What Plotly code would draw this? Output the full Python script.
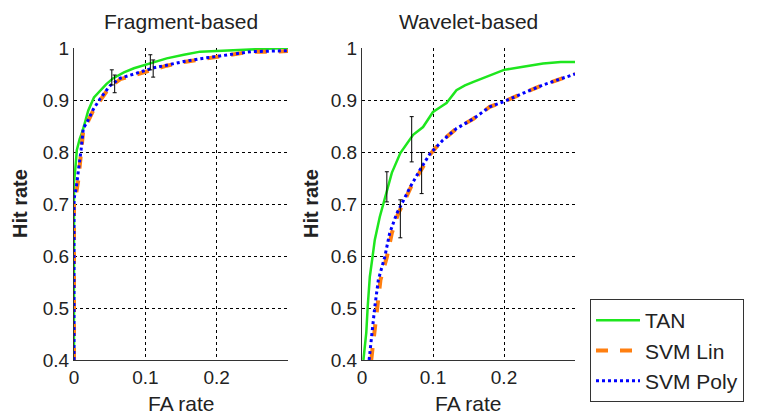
import plotly.graph_objects as go

# ---------------- data ----------------
frag_tan_x = [0, 0, 0.002, 0.004, 0.008, 0.011, 0.015, 0.02, 0.028, 0.037, 0.045, 0.055, 0.07, 0.084, 0.1, 0.112, 0.13, 0.154, 0.177, 0.2, 0.224, 0.26, 0.3]
frag_tan_y = [0.4, 0.74, 0.77, 0.804, 0.825, 0.836, 0.855, 0.88, 0.905, 0.919, 0.93, 0.942, 0.953, 0.961, 0.968, 0.973, 0.98, 0.987, 0.993, 0.994, 0.996, 0.998, 1.0]

frag_lin_x = [0, 0, 0.003, 0.006, 0.01, 0.013, 0.02, 0.027, 0.037, 0.05, 0.065, 0.084, 0.1, 0.112, 0.13, 0.154, 0.18, 0.2, 0.225, 0.248, 0.275, 0.3]
frag_lin_y = [0.4, 0.70, 0.72, 0.746, 0.80, 0.842, 0.86, 0.88, 0.90, 0.925, 0.94, 0.948, 0.955, 0.96, 0.966, 0.973, 0.979, 0.983, 0.988, 0.993, 0.993, 0.994]

frag_poly_x = [0, 0, 0.003, 0.006, 0.01, 0.013, 0.02, 0.027, 0.037, 0.05, 0.065, 0.084, 0.1, 0.112, 0.13, 0.154, 0.18, 0.2, 0.225, 0.248, 0.275, 0.3]
frag_poly_y = [0.4, 0.71, 0.73, 0.76, 0.805, 0.845, 0.862, 0.882, 0.903, 0.927, 0.942, 0.95, 0.957, 0.962, 0.967, 0.974, 0.98, 0.984, 0.989, 0.993, 0.994, 0.995]

wav_tan_x = [0.002, 0.004, 0.006, 0.008, 0.011, 0.015, 0.018, 0.025, 0.03, 0.036, 0.042, 0.054, 0.063, 0.072, 0.086, 0.1, 0.11, 0.119, 0.133, 0.145, 0.157, 0.18, 0.2, 0.227, 0.255, 0.28, 0.3]
wav_tan_y = [0.4, 0.43, 0.452, 0.502, 0.56, 0.60, 0.631, 0.675, 0.70, 0.735, 0.76, 0.798, 0.815, 0.833, 0.848, 0.877, 0.886, 0.894, 0.919, 0.928, 0.935, 0.948, 0.958, 0.964, 0.97, 0.973, 0.973]

wav_lin_x = [0.013, 0.017, 0.021, 0.026, 0.035, 0.042, 0.051, 0.056, 0.069, 0.085, 0.097, 0.105, 0.114, 0.133, 0.157, 0.18, 0.2, 0.227, 0.255, 0.3]
wav_lin_y = [0.4, 0.452, 0.502, 0.554, 0.598, 0.644, 0.682, 0.695, 0.733, 0.771, 0.797, 0.81, 0.823, 0.845, 0.864, 0.887, 0.897, 0.913, 0.929, 0.95]

wav_poly_x = [0.01, 0.014, 0.018, 0.023, 0.032, 0.039, 0.049, 0.054, 0.068, 0.084, 0.096, 0.105, 0.114, 0.133, 0.157, 0.18, 0.2, 0.227, 0.255, 0.3]
wav_poly_y = [0.4, 0.452, 0.502, 0.554, 0.598, 0.644, 0.682, 0.695, 0.733, 0.771, 0.797, 0.81, 0.823, 0.845, 0.864, 0.887, 0.897, 0.913, 0.929, 0.95]

frag_err_x = [0.053, 0.057, 0.107, 0.111]
frag_err_lo = [0.929, 0.914, 0.958, 0.944]
frag_err_hi = [0.958, 0.948, 0.987, 0.977]

wav_err_x = [0.035, 0.054, 0.07, 0.084]
wav_err_lo = [0.704, 0.635, 0.781, 0.72]
wav_err_hi = [0.762, 0.708, 0.868, 0.799]

x_ticks = [0, 0.1, 0.2]
x_tick_labels = ["0", "0.1", "0.2"]
y_ticks = [0.4, 0.5, 0.6, 0.7, 0.8, 0.9, 1.0]
y_tick_labels = ["0.4", "0.5", "0.6", "0.7", "0.8", "0.9", "1"]

titles = ["Fragment-based", "Wavelet-based"]
series_names = ["TAN", "SVM Lin", "SVM Poly"]

# ---------------- styles ----------------
GREEN = "#1ee61e"
ORANGE = "#ff7f10"
BLUE = "#0000ff"
FONT = "Liberation Sans, Arial, sans-serif"
TXT = "#222222"

fig = go.Figure()

def add_panel(xa, ya, tx, ty, lx, ly, px, py, ex, elo, ehi, showlegend):
    fig.add_trace(go.Scatter(x=tx, y=ty, mode="lines", name=series_names[0],
                             line=dict(color=GREEN, width=2.5), xaxis=xa, yaxis=ya,
                             showlegend=showlegend, legendrank=1))
    fig.add_trace(go.Scatter(x=lx, y=ly, mode="lines", name=series_names[1],
                             line=dict(color=ORANGE, width=4, dash="dash"), xaxis=xa, yaxis=ya,
                             showlegend=showlegend, legendrank=2))
    fig.add_trace(go.Scatter(x=px, y=py, mode="lines", name=series_names[2],
                             line=dict(color=BLUE, width=3, dash="dot"), xaxis=xa, yaxis=ya,
                             showlegend=showlegend, legendrank=3))
    fig.add_trace(go.Scatter(x=ex, y=elo, mode="markers", marker=dict(size=1, opacity=0),
                             error_y=dict(type="data", symmetric=False,
                                          array=[h - l for h, l in zip(ehi, elo)],
                                          arrayminus=[0] * len(elo),
                                          color="black", thickness=1, width=2),
                             xaxis=xa, yaxis=ya, showlegend=False, hoverinfo="skip"))

add_panel("x", "y", frag_tan_x, frag_tan_y, frag_lin_x, frag_lin_y, frag_poly_x, frag_poly_y,
          frag_err_x, frag_err_lo, frag_err_hi, True)
add_panel("x2", "y2", wav_tan_x, wav_tan_y, wav_lin_x, wav_lin_y, wav_poly_x, wav_poly_y,
          wav_err_x, wav_err_lo, wav_err_hi, False)

# The page body adds an 8px offset; positions below are given in screen pixels
OFF = 8
W, H = 757 - OFF, 416 - OFF

def fx(px):
    return (px - OFF) / W

def fy(py):
    return 1 - (py - OFF) / H

ydom = [fy(360), fy(48)]

axis_common = dict(showgrid=True, gridcolor="black", griddash="dot", gridwidth=1,
                   showline=True, linecolor="#333333", linewidth=1, zeroline=False,
                   automargin=False,
                   ticks="", tickfont=dict(family=FONT, size=19, color=TXT))

fig.update_layout(
    template="none",
    width=W, height=H, autosize=False,
    margin=dict(l=0, r=0, t=0, b=0, pad=0),
    paper_bgcolor="white", plot_bgcolor="white",
    font=dict(family=FONT, color=TXT),
    xaxis=dict(domain=[fx(74), fx(288)], range=[0, 0.3], tickvals=x_ticks, ticktext=x_tick_labels,
               anchor="y", **axis_common),
    yaxis=dict(domain=ydom, range=[0.4, 1.0], tickvals=y_ticks, ticktext=y_tick_labels,
               anchor="x", **axis_common),
    xaxis2=dict(domain=[fx(362), fx(575)], range=[0, 0.3], tickvals=x_ticks, ticktext=x_tick_labels,
                anchor="y2", **axis_common),
    yaxis2=dict(domain=ydom, range=[0.4, 1.0], tickvals=y_ticks, ticktext=y_tick_labels,
                anchor="x2", **axis_common),
    legend=dict(x=fx(590), y=fy(299), xanchor="left", yanchor="top",
                bgcolor="white", bordercolor="#333333", borderwidth=1,
                font=dict(family=FONT, size=21, color=TXT),
                tracegroupgap=0, itemwidth=44),
    showlegend=True,
)

annotations = []
for cx, t in [((74 + 288) / 2, titles[0]), ((362 + 575) / 2, titles[1])]:
    annotations.append(dict(x=fx(cx), y=fy(21), xref="paper", yref="paper", text=t, showarrow=False,
                            xanchor="center", yanchor="middle",
                            font=dict(family=FONT, size=21, color=TXT)))
    annotations.append(dict(x=fx(cx), y=fy(403), xref="paper", yref="paper", text="FA rate",
                            showarrow=False, xanchor="center", yanchor="middle",
                            font=dict(family=FONT, size=21, color=TXT)))
for hx in [20, 311]:
    annotations.append(dict(x=fx(hx), y=fy(204), xref="paper", yref="paper", text="<b>Hit rate</b>",
                            showarrow=False, textangle=-90, xanchor="center", yanchor="middle",
                            font=dict(family=FONT, size=20, color=TXT)))
fig.update_layout(annotations=annotations)

fig.write_html("out.html")
